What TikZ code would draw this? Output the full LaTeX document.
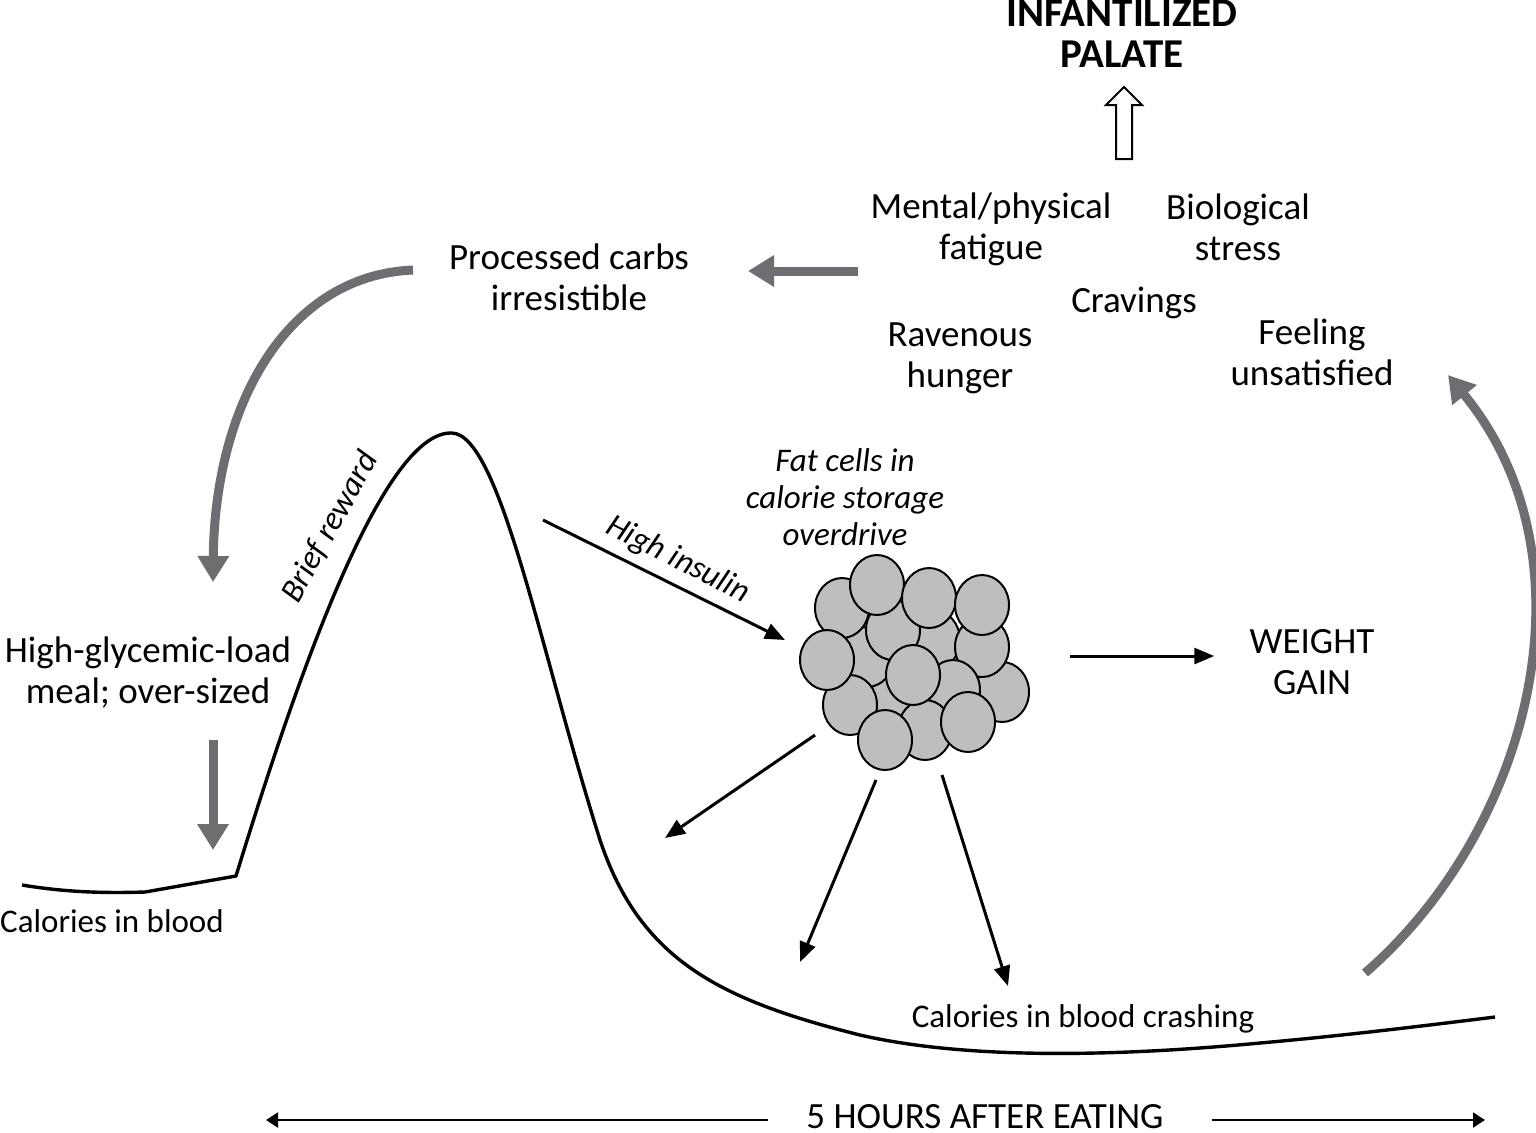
\documentclass[tikz,border=0pt]{standalone}
\usepackage{fontspec}
\setmainfont{Carlito}
\usetikzlibrary{arrows.meta,shapes.arrows}

\definecolor{arrgray}{HTML}{6D6E71}
\definecolor{cellgray}{HTML}{BCBEC0}

\begin{document}
\begin{tikzpicture}[x=0.5pt, y=-0.5pt,
    lbl/.style={align=center, inner sep=0pt, font=\fontsize{18.5}{20.5}\selectfont},
    small/.style={align=center, inner sep=0pt, font=\fontsize{16.5}{18.5}\selectfont},
    note/.style={align=center, inner sep=0pt, font=\fontsize{16.5}{18.5}\selectfont\itshape},
    title/.style={align=center, inner sep=0pt, font=\fontsize{20.5}{20.5}\selectfont\bfseries},
    grayarr/.style={-{Triangle[length=13pt,width=15pt]}, line width=4.5pt, arrgray},
    blkarr/.style={-{Triangle[length=10pt,width=8pt]}, line width=1.5pt},
    spanarr/.style={-{Triangle[length=6pt,width=7.5pt]}, line width=1pt},
    cell/.style={draw, line width=1pt, fill=cellgray}
]
\fill[white] (0,0) rectangle (1536,1132);
\useasboundingbox (0,0) rectangle (1536,1132);

% top of the loop
\node[title] (palate) at (1122,34) {INFANTILIZED\\PALATE};
\node[single arrow, draw, line width=1pt, fill=white, rotate=90, minimum height=36pt,
      inner sep=3.5pt, single arrow head extend=5pt] (uparr) at (1124,127) {};
\node[lbl] (mental) at (991,229) {Mental/physical\\fatigue};
\node[lbl] (bio) at (1238,227) {Biological\\stress};
\node[lbl] (crav) at (1134,303) {Cravings};
\node[lbl] (raven) at (960,358) {Ravenous\\hunger};
\node[lbl] (feel) at (1312,352) {Feeling\\unsatisfied};
\node[lbl] (carbs) at (569,277) {Processed carbs\\irresistible};
\node[lbl] (meal) at (148,673) {High-glycemic-load\\meal; over-sized};
\node[small] (calin) at (112,921) {Calories in blood};
\node[note] (fat) at (845,497) {Fat cells in\\calorie storage\\overdrive};
\node[lbl] (weight) at (1312,662) {WEIGHT\\GAIN};
\node[small] (crash) at (1083,1019) {Calories in blood crashing};
\node[lbl] (hours) at (985,1117) {5 HOURS AFTER EATING};
\node[note, rotate=61] (reward) at (330,527) {Brief reward};
\node[note, rotate=-27] (insulin) at (678,560) {High insulin};

% blood sugar curve
\draw[line width=1.7pt, line join=round]
  (22,885) .. controls (70,893) and (110,893) .. (145,892) -- (236,876)
  .. controls (290,700) and (380,430) .. (452,433)
  .. controls (500,435) and (540,650) .. (600,840)
  .. controls (640,960) and (720,1000) .. (860,1035)
  .. controls (960,1058) and (1100,1058) .. (1260,1043)
  .. controls (1350,1035) and (1430,1025) .. (1495,1017);

% fat cells
\foreach \cx/\cy in {890/703, 933/640, 867/657, 893/630, 842/608, 877/585, 929/598,
    1002/692, 982/647, 982/605, 850/705, 827/660, 953/690, 925/730, 913/675, 968/722, 885/740}
  \draw[cell] (\cx,\cy) ellipse [x radius=27, y radius=30];

% arrow ends
\coordinate (sympt) at (858,271);
\coordinate (carbsin) at (748,271);
\coordinate (loopa) at (413,270);
\coordinate (loopb) at (213,582);
\coordinate (eata) at (213,740);
\coordinate (eatb) at (213,850);
\coordinate (risea) at (1365,973);
\coordinate (riseb) at (1448,375);
\coordinate (peak) at (543,520);
\coordinate (fatin) at (785,640);
\coordinate (fatE) at (1070,656);
\coordinate (fatSW) at (815,735);
\coordinate (outSW) at (665,838);
\coordinate (fatS1) at (876,780);
\coordinate (outS1) at (800,962);
\coordinate (fatS2) at (942,775);
\coordinate (outS2) at (1008,986);
\coordinate (spanL) at (266,1120);
\coordinate (spanR) at (1485,1120);

\draw[grayarr] (sympt) -- (carbsin);
\draw[grayarr] (loopa) .. controls (290,275) and (215,400) .. (loopb);
\draw[grayarr] (eata) -- (eatb);
\draw[grayarr] (risea) .. controls (1530,830) and (1600,560) .. (riseb);

\draw[blkarr] (peak) -- (fatin);
\draw[blkarr, shorten >=17.5pt] (fatE) -- (fatE -| weight.west);
\draw[blkarr] (fatSW) -- (outSW);
\draw[blkarr] (fatS1) -- (outS1);
\draw[blkarr] (fatS2) -- (outS2);

\draw[spanarr, shorten <=19pt] (hours.west |- spanL) -- (spanL);
\draw[spanarr, shorten <=24pt] (hours.east |- spanR) -- (spanR);
\end{tikzpicture}
\end{document}
